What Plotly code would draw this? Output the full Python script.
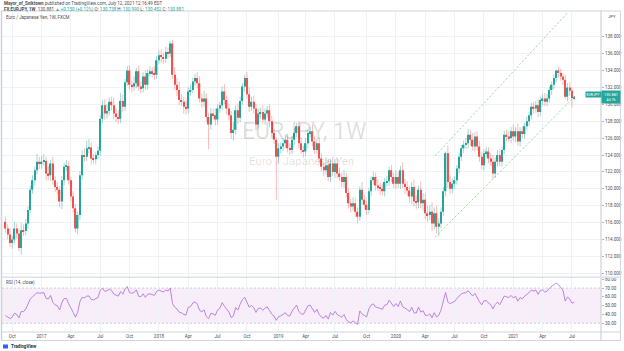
import numpy as np
import pandas as pd
import plotly.graph_objects as go

# ---------------- data ----------------
first_week = "2016-09-12"
first_open = 116.1
closes = [
    115.3, 114.6, 113.6, 114.0, 115.3, 114.7, 113.0, 115.1, 115.0, 115.9,
    117.5, 119.9, 121.0, 122.2, 123.2, 123.0, 123.2, 123.3, 121.8, 121.6,
    123.0, 121.0, 120.2, 119.9, 118.5, 121.0, 122.6, 122.7, 121.0, 119.1,
    117.7, 115.3, 116.9, 121.6, 124.0, 123.8, 124.8, 124.9, 123.6, 123.5,
    124.0, 124.5, 128.3, 129.9, 128.9, 129.2, 130.3, 129.9, 128.9, 128.5,
    128.3, 130.4, 129.7, 132.6, 134.0, 132.3, 132.1, 132.5, 133.9, 132.1,
    131.9, 133.3, 132.3, 133.7, 133.9, 133.7, 133.5, 135.2, 135.8, 135.6,
    135.4, 136.2, 136.0, 137.2, 133.5, 132.3, 131.7, 130.5, 130.3, 129.7,
    129.5, 131.5, 131.7, 132.7, 133.1, 132.5, 130.7, 130.3, 130.7, 128.5,
    127.6, 128.9, 128.7, 128.2, 129.5, 129.9, 131.5, 130.5, 129.5, 128.7,
    126.6, 127.0, 129.3, 128.4, 130.4, 132.1, 133.1, 131.2, 129.7, 130.3,
    129.5, 127.6, 128.9, 129.1, 128.2, 128.9, 129.3, 128.0, 126.6, 125.8,
    123.8, 124.8, 125.0, 125.4, 125.8, 124.8, 124.6, 125.8, 126.6, 127.4,
    125.4, 124.6, 124.4, 125.4, 126.6, 126.8, 125.6, 124.6, 125.4, 123.6,
    122.6, 122.2, 122.8, 121.4, 123.0, 122.0, 123.0, 121.8, 121.4, 120.8,
    121.4, 119.5, 118.3, 117.9, 118.3, 117.3, 116.7, 119.9, 118.7, 118.1,
    117.5, 119.7, 121.0, 121.4, 120.4, 120.2, 120.0, 119.7, 120.8, 120.9,
    122.2, 121.4, 120.6, 121.4, 120.6, 122.2, 120.6, 120.2, 119.8, 119.1,
    120.2, 118.5, 118.4, 119.9, 118.3, 118.7, 117.1, 116.9, 117.3, 115.9,
    117.1, 115.5, 115.9, 117.3, 119.7, 124.2, 120.8, 120.0, 120.6, 121.0,
    122.4, 123.8, 124.8, 125.2, 125.4, 126.4, 125.8, 125.0, 126.2, 125.0,
    123.8, 122.8, 124.2, 124.4, 123.6, 123.2, 121.8, 123.2, 124.0, 123.2,
    124.6, 126.4, 126.2, 126.0, 126.8, 126.2, 126.8, 125.6, 126.8, 126.5,
    127.4, 128.0, 128.7, 129.7, 129.5, 129.9, 129.1, 130.5, 130.7, 130.3,
    130.7, 131.7, 132.3, 133.1, 134.0, 133.7, 133.3, 132.9, 130.9, 132.0,
    131.6, 130.74, 130.881,
]
wick_up = [
    0.6, 0.5, 0.7, 0.4, 0.8, 0.6, 0.5, 0.9, 0.7, 0.5,
    0.4, 0.5, 0.6, 0.4, 0.9, 0.6, 0.7, 0.8, 0.5, 0.9,
    0.4, 0.8, 0.5, 0.6, 0.4, 0.5, 0.5, 0.7, 0.6, 0.4,
    0.6, 0.5, 0.4, 0.5, 0.6, 0.8, 0.9, 1.0, 0.6, 0.5,
    0.4, 0.5, 0.4, 0.6, 0.7, 0.8, 0.5, 0.6, 0.9, 0.6,
    0.8, 0.9, 0.7, 0.4, 0.5, 0.6, 0.5, 0.8, 0.4, 0.7,
    0.6, 0.5, 0.7, 0.4, 0.6, 0.5, 0.8, 0.5, 0.6, 0.7,
    0.5, 0.6, 0.5, 0.3, 0.4, 0.9, 0.8, 1.0, 0.7, 0.6,
    0.8, 0.5, 0.6, 0.4, 0.5, 0.7, 0.8, 0.6, 0.9, 0.6,
    0.5, 0.7, 0.6, 0.8, 0.5, 0.4, 0.6, 0.9, 0.5, 0.6,
    0.5, 0.9, 0.6, 0.8, 0.5, 0.4, 0.4, 0.7, 0.8, 0.6,
    0.7, 0.5, 0.6, 0.5, 0.8, 0.6, 0.5, 0.7, 0.6, 0.5,
    0.3, 0.6, 0.5, 0.6, 0.5, 0.7, 0.6, 0.5, 0.6, 0.4,
    0.6, 0.7, 0.5, 0.6, 0.4, 0.5, 0.8, 0.6, 0.5, 0.7,
    0.6, 0.5, 0.9, 0.7, 0.5, 0.8, 0.5, 0.6, 0.7, 0.5,
    0.8, 0.5, 0.6, 0.5, 0.7, 0.6, 0.5, 0.4, 0.9, 0.6,
    0.5, 0.4, 0.5, 0.6, 0.5, 0.7, 0.5, 0.6, 0.5, 0.6,
    0.4, 0.6, 0.5, 0.8, 0.6, 0.5, 0.9, 0.6, 0.7, 0.5,
    0.6, 0.9, 0.7, 0.5, 1.0, 0.8, 0.7, 0.9, 0.8, 1.1,
    0.7, 0.9, 0.6, 0.5, 0.5, 0.2, 0.9, 0.8, 0.6, 0.5,
    0.4, 0.5, 0.4, 0.5, 0.6, 0.7, 0.6, 0.8, 0.5, 0.6,
    0.7, 0.6, 0.5, 0.6, 0.5, 0.6, 0.8, 0.5, 0.6, 0.7,
    0.4, 0.5, 0.6, 0.7, 0.5, 0.8, 0.5, 0.9, 0.5, 0.6,
    0.4, 0.5, 0.4, 0.5, 0.6, 0.5, 0.7, 0.4, 0.5, 0.6,
    0.5, 0.4, 0.4, 0.4, 0.1, 0.4, 0.5, 0.4, 0.6, 0.5,
    0.6, 0.4, 0.109,
]
wick_dn = [
    0.5, 0.6, 0.5, 0.7, 0.5, 0.6, 0.4, 0.8, 0.6, 0.5,
    0.6, 0.4, 0.5, 0.6, 0.5, 0.7, 0.6, 0.5, 0.8, 0.6,
    0.7, 0.5, 0.6, 0.5, 0.7, 0.9, 0.6, 0.5, 0.5, 0.6,
    0.5, 0.5, 0.7, 0.6, 0.5, 0.6, 0.5, 0.6, 0.7, 0.5,
    0.6, 0.5, 0.6, 0.5, 0.7, 0.6, 0.5, 0.6, 0.7, 0.6,
    0.6, 0.5, 0.6, 0.5, 0.4, 0.6, 0.7, 0.5, 0.6, 0.5,
    0.6, 0.5, 0.6, 0.5, 0.4, 0.5, 0.6, 0.5, 0.4, 0.7,
    0.6, 0.5, 0.6, 0.4, 0.5, 0.6, 0.7, 0.6, 0.5, 0.8,
    0.7, 0.6, 0.5, 0.4, 0.5, 0.6, 0.5, 0.7, 0.6, 0.6,
    2.9, 0.6, 0.5, 0.7, 0.6, 0.5, 0.6, 0.5, 0.7, 0.6,
    0.7, 0.9, 0.6, 0.7, 0.5, 0.5, 0.6, 0.5, 0.6, 0.5,
    0.6, 0.7, 0.5, 0.6, 0.5, 0.6, 0.5, 0.7, 0.6, 0.5,
    5.1, 0.8, 0.6, 0.5, 0.6, 0.5, 0.6, 0.5, 0.6, 0.5,
    0.6, 0.5, 0.7, 0.5, 0.6, 0.5, 0.6, 0.5, 0.5, 0.6,
    0.5, 0.7, 0.6, 0.5, 0.6, 0.5, 0.7, 0.6, 0.5, 0.6,
    0.7, 0.5, 0.6, 0.7, 0.5, 0.6, 0.8, 0.5, 0.6, 0.5,
    0.6, 0.5, 0.6, 0.5, 0.6, 0.5, 0.7, 0.5, 0.6, 0.5,
    0.5, 0.6, 0.5, 0.6, 0.5, 0.6, 0.5, 0.8, 0.6, 0.7,
    0.9, 0.6, 0.8, 0.7, 0.6, 0.9, 0.7, 0.8, 0.6, 0.9,
    0.7, 0.8, 1.1, 0.6, 0.5, 0.6, 0.7, 0.6, 0.5, 0.6,
    0.5, 0.6, 0.5, 0.6, 0.5, 0.6, 0.7, 0.5, 0.6, 0.5,
    0.6, 0.5, 0.6, 0.5, 0.6, 0.5, 0.6, 0.5, 0.6, 0.5,
    0.6, 0.5, 0.6, 0.5, 0.6, 0.5, 0.7, 0.5, 0.6, 0.5,
    0.6, 0.5, 0.6, 0.5, 0.6, 0.5, 0.6, 0.5, 0.6, 0.5,
    0.5, 0.5, 0.6, 0.5, 0.5, 0.6, 0.5, 0.6, 0.3, 0.5,
    0.6, 1.1, 0.286,
]
# weekly closes before the visible window (only used to warm up the RSI)
warmup_closes = [122.6, 123.2, 123.3, 123.1, 123.6, 120.5, 120.9, 118.5, 113.5, 114.1,
                 111.5, 117.3, 116.6, 114.0, 113.1, 113.2, 113.7, 114.4, 115.5, 116.1]

price_ticks = [110, 112, 114, 116, 118, 120, 122, 124, 126, 128, 130, 132, 134, 136, 138]
rsi_ticks = [30, 40, 50, 60, 70, 80]
time_tick_dates = ["2016-10-03", "2017-01-02", "2017-04-03", "2017-07-03", "2017-10-02",
                   "2018-01-01", "2018-04-02", "2018-07-02", "2018-10-01", "2019-01-07",
                   "2019-04-01", "2019-07-01", "2019-10-07", "2020-01-06", "2020-04-06",
                   "2020-07-06", "2020-10-05", "2021-01-04", "2021-04-05", "2021-07-05"]
time_tick_labels = ["Oct", "2017", "Apr", "Jul", "Oct", "2018", "Apr", "Jul", "Oct", "2019",
                    "Apr", "Jul", "Oct", "2020", "Apr", "Jul", "Oct", "2021", "Apr", "Jul"]
channel_upper = (["2020-05-07", "2021-06-23"], [123.9, 140.9])
channel_lower = (["2020-05-07", "2021-07-15"], [114.3, 130.98])
last_price = 130.881

# ---------------- derived ----------------
dates = pd.date_range(first_week, periods=len(closes), freq="7D")
opens = [first_open] + closes[:-1]
highs = [max(o, c) + u for o, c, u in zip(opens, closes, wick_up)]
lows = [min(o, c) - d for o, c, d in zip(opens, closes, wick_dn)]

allc = np.array(warmup_closes + closes, dtype=float)
delta = np.diff(allc)
gain = np.where(delta > 0, delta, 0.0)
loss = np.where(delta < 0, -delta, 0.0)
n = 14
ag = np.full(len(delta), np.nan)
al = np.full(len(delta), np.nan)
ag[n - 1] = gain[:n].mean()
al[n - 1] = loss[:n].mean()
for i in range(n, len(delta)):
    ag[i] = (ag[i - 1] * (n - 1) + gain[i]) / n
    al[i] = (al[i - 1] * (n - 1) + loss[i]) / n
rsi_all = 100 - 100 / (1 + ag / al)
rsi = rsi_all[-len(closes):]

UP, DN = "#26a69a", "#ef5350"
FONT = "Roboto"

fig = go.Figure()

# wicks
for is_up, col in [(True, "rgba(38,166,154,0.55)"), (False, "rgba(239,83,80,0.5)")]:
    wx, wy = [], []
    for d, o, c, h, l in zip(dates, opens, closes, highs, lows):
        if (c >= o) == is_up:
            wx += [d, d, None]
            wy += [l, h, None]
    fig.add_trace(go.Scatter(x=wx, y=wy, mode="lines", line=dict(color=col, width=0.8),
                             hoverinfo="skip", showlegend=False, xaxis="x", yaxis="y"))

# bodies
body_base = [min(o, c) for o, c in zip(opens, closes)]
body_h = [max(abs(c - o), 0.06) for o, c in zip(opens, closes)]
body_col = [UP if c >= o else DN for o, c in zip(opens, closes)]
fig.add_trace(go.Bar(x=dates, y=body_h, base=body_base, marker=dict(color=body_col, line=dict(width=0)),
                     width=7 * 24 * 3600 * 1000 * 0.62, showlegend=False, xaxis="x", yaxis="y"))

# channel drawing
for xs, ys in [channel_upper, channel_lower]:
    fig.add_trace(go.Scatter(x=xs, y=ys, mode="lines",
                             line=dict(color="rgba(120,200,120,0.75)", width=1, dash="2px,2px"),
                             hoverinfo="skip", showlegend=False, xaxis="x", yaxis="y"))

# RSI
fig.add_trace(go.Scatter(x=dates, y=rsi, mode="lines", line=dict(color="#b777dc", width=0.9),
                         showlegend=False, xaxis="x2", yaxis="y2"))

# plot geometry: plot area x 2..603, y 11..332
PL, PR, PT, PB = 2, 603, 11, 332
W, H = 624, 351
def xp(px):
    return (px - PL) / (PR - PL)
def yp(py):
    return (PB - py) / (PB - PT)

grid = "#eef1f6"
fig.update_layout(
    width=W, height=H, margin=dict(l=PL, r=W - PR, t=PT, b=H - PB),
    paper_bgcolor="white", plot_bgcolor="white", barmode="overlay",
    font=dict(family=FONT, color="#4a4d57", size=5),
    xaxis=dict(domain=[0, 1], anchor="y", type="date",
               range=["2016-09-01 07:00", "2021-10-03"],
               tickvals=time_tick_dates, showticklabels=False, showgrid=True,
               gridcolor=grid, gridwidth=1, zeroline=False, showline=False, ticks=""),
    xaxis2=dict(domain=[0, 1], anchor="y2", type="date", matches="x",
                range=["2016-09-01 07:00", "2021-10-03"],
                tickvals=time_tick_dates, ticktext=time_tick_labels,
                tickfont=dict(size=4.5, color="#4a4d57"), showgrid=True, gridcolor=grid,
                zeroline=False, showline=False, ticks=""),
    yaxis=dict(domain=[yp(276.7), 1], anchor="x", side="right", range=[109.6, 141.04],
               tickvals=price_ticks, ticktext=[f"{v:.3f}" for v in price_ticks],
               tickfont=dict(size=4.5, color="#4a4d57"), showgrid=True, gridcolor=grid,
               zeroline=False, showline=False, ticks="outside", ticklen=2, tickcolor="#b2b5be"),
    yaxis2=dict(domain=[0, yp(277.7)], anchor="x2", side="right", range=[20.1, 81.8],
                tickvals=rsi_ticks, ticktext=[f"{v:.2f}" for v in rsi_ticks],
                tickfont=dict(size=4.5, color="#4a4d57"), showgrid=False,
                zeroline=False, showline=False, ticks="outside", ticklen=2, tickcolor="#b2b5be"),
)

shapes = []
# RSI band
shapes.append(dict(type="rect", xref="x2 domain", yref="y2", x0=0, x1=1, y0=30, y1=70,
                   fillcolor="rgba(156,39,176,0.08)", line=dict(width=0), layer="below"))
for lv in (30, 70):
    shapes.append(dict(type="line", xref="x2 domain", yref="y2", x0=0, x1=1, y0=lv, y1=lv,
                       line=dict(color="#c3c6cf", width=0.8, dash="2px,2px"), layer="below"))
# frame and separators
line_c = "#d1d4dc"
shapes += [
    dict(type="line", xref="paper", yref="paper", x0=xp(1.5), x1=xp(1.5), y0=yp(11), y1=yp(340.5),
         line=dict(color="#cfd2d8", width=1.5)),
    dict(type="line", xref="paper", yref="paper", x0=xp(1), x1=xp(623), y0=yp(11), y1=yp(11),
         line=dict(color=line_c, width=1)),
    dict(type="line", xref="paper", yref="paper", x0=xp(1), x1=xp(623), y0=yp(340.5), y1=yp(340.5),
         line=dict(color=line_c, width=1)),
    dict(type="line", xref="paper", yref="paper", x0=xp(622.5), x1=xp(622.5), y0=yp(11), y1=yp(340.5),
         line=dict(color=line_c, width=1)),
    dict(type="line", xref="paper", yref="paper", x0=xp(603), x1=xp(603), y0=yp(11), y1=yp(340.5),
         line=dict(color="#c5c8cf", width=1)),
    dict(type="line", xref="paper", yref="paper", x0=xp(2), x1=xp(623), y0=yp(277.2), y1=yp(277.2),
         line=dict(color="#dfe2e8", width=1.6)),
    dict(type="line", xref="paper", yref="paper", x0=xp(2), x1=xp(623), y0=yp(332), y1=yp(332),
         line=dict(color=line_c, width=1)),
]
fig.update_layout(shapes=shapes)

ann = []
def T(text, x, y, size=4.5, color="#4a4d57", xanchor="left", **kw):
    ann.append(dict(text=text, xref="paper", yref="paper", x=xp(x), y=yp(y), xanchor=xanchor,
                    yanchor="middle", showarrow=False, font=dict(size=size, color=color, family=FONT), **kw))

teal = UP
T("<b>Mayor_of_Sniktown</b> published on TradingView.com, July 12, 2021 12:16:49 EDT", 2, 3.6)
T(f"<b>FX:EURJPY, 1W</b>  130.881 <span style='color:{teal}'>▲ +0.150 (+0.12%)</span> "
  f"O: <span style='color:{teal}'>130.738</span> H: <span style='color:{teal}'>130.990</span> "
  f"L: <span style='color:{teal}'>130.452</span> C: <span style='color:{teal}'>130.881</span>", 2, 9.3)
T("Euro / Japanese Yen, 1W, FXCM", 4, 17)
T("RSI (14, close)", 4, 282.3)
T("JPY", 608, 16, size=4.3)
T("<b>TradingView</b>", 9, 346.5, size=4.5, color="#2b2f3a")
# watermark
T("EURJPY, 1W", 305, 131, size=23, color="rgba(0,0,0,0.13)", xanchor="center")
T("Euro / Japanese Yen", 303, 161, size=11.5, color="rgba(0,0,0,0.13)", xanchor="center")
# last price labels
ann.append(dict(text="130.881<br>4d 7h", xref="paper", yref="y", x=xp(603.5), y=last_price,
                xanchor="left", yanchor="middle", showarrow=False, bgcolor=teal, borderpad=1,
                width=16, align="center", font=dict(size=3.8, color="white", family=FONT)))
ann.append(dict(text="EURJPY", xref="paper", yref="y", x=xp(595), y=last_price + 0.25,
                xanchor="center", yanchor="middle", showarrow=False, bgcolor=teal, borderpad=0.6,
                font=dict(size=3.5, color="white", family=FONT)))
fig.update_layout(annotations=ann)

# TradingView logo mark
fig.add_shape(type="rect", xref="paper", yref="paper", x0=xp(3), x1=xp(8), y0=yp(348.5), y1=yp(344.5),
              fillcolor="#2962ff", line=dict(width=0))

fig.write_html("out.html")
